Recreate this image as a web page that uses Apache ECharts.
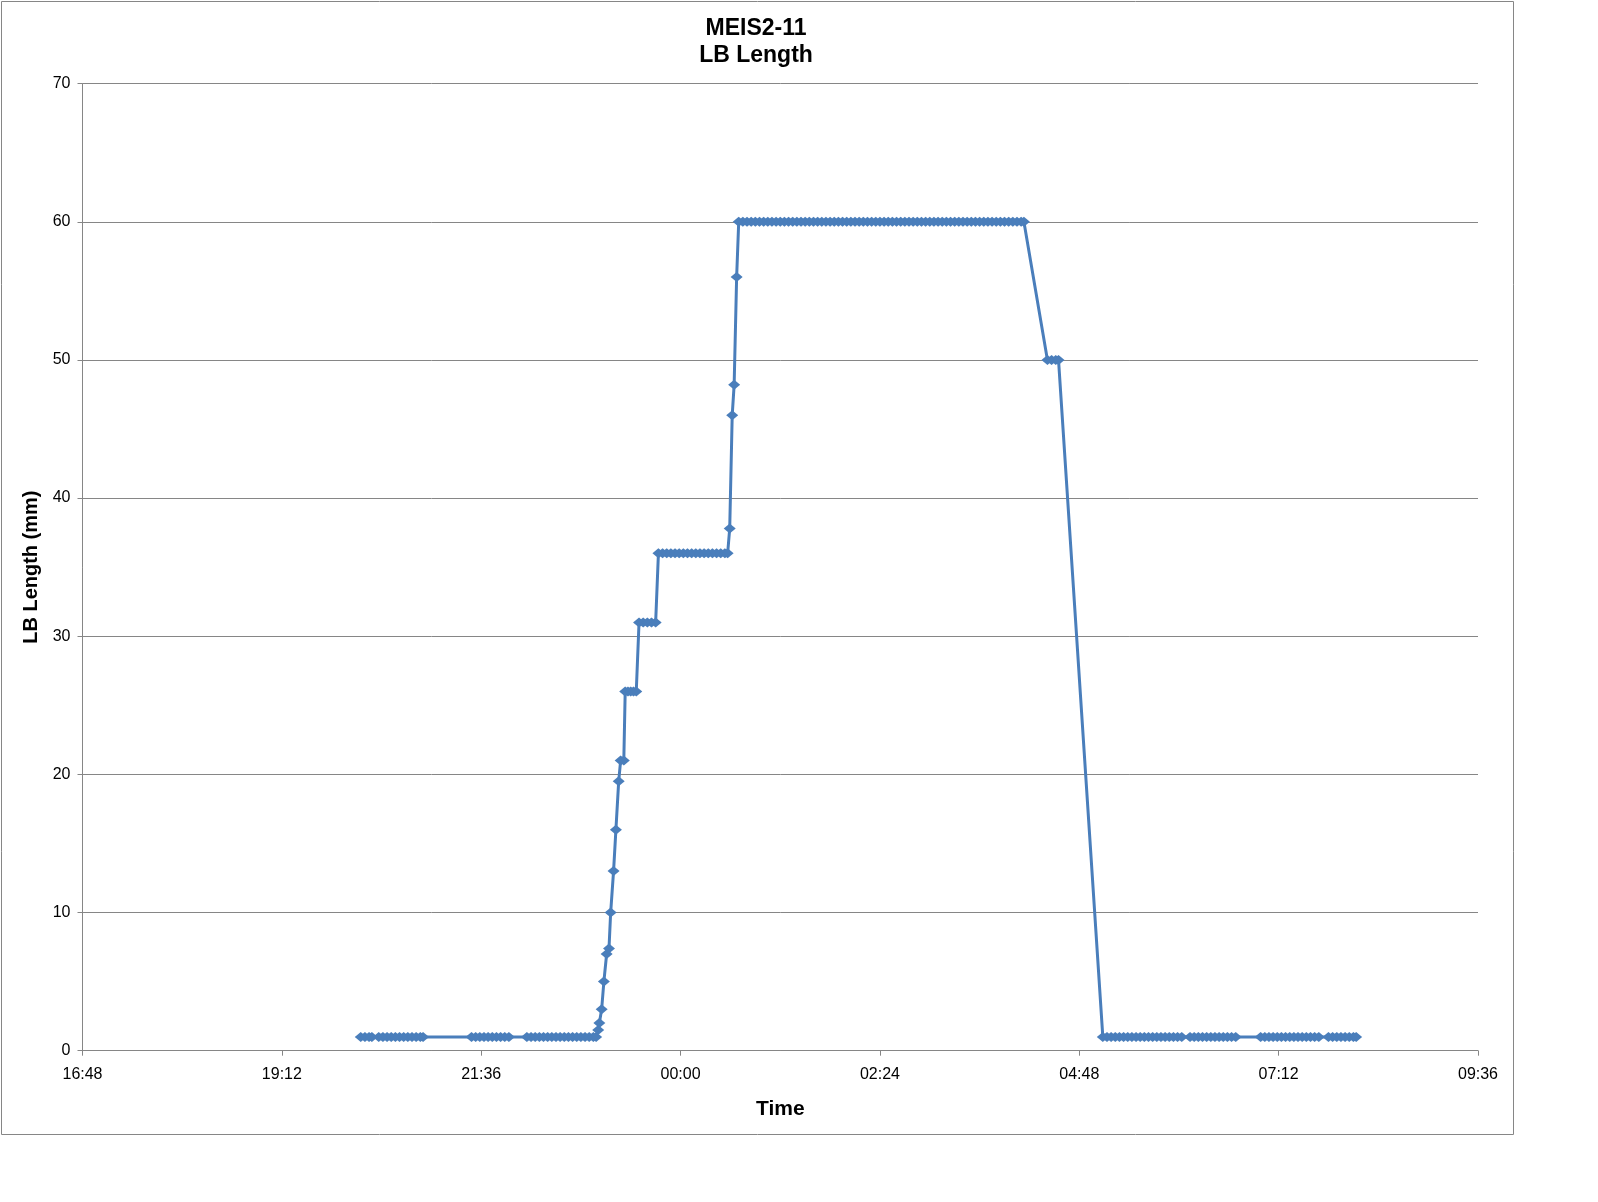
<!DOCTYPE html>
<html><head><meta charset="utf-8">
<script src="https://cdn.jsdelivr.net/npm/echarts@6/dist/echarts.min.js"></script>
<style>html,body{margin:0;padding:0;background:#fff}#c{width:1598px;height:1202px}</style>
</head><body><div id="c"></div>
<script>
const chartTitle = ["MEIS2-11", "LB Length"];
const xTickLabels = ["16:48","19:12","21:36","00:00","02:24","04:48","07:12","09:36"];
const yTickValues = [0,10,20,30,40,50,60,70];

const timeLabels = [
 "20:09","20:12","20:15","20:17",
 "20:22","20:25","20:28","20:31","20:34","20:37","20:40","20:43","20:46","20:49","20:52","20:54",
 "21:29","21:32","21:35","21:38","21:41","21:44","21:47","21:50","21:53","21:56",
 "22:09","22:12","22:15","22:18","22:21","22:24","22:27","22:30","22:33","22:36","22:39","22:42","22:45","22:48","22:51","22:54","22:57","22:59",
 "23:00:30","23:01:20","23:03:00","23:04:36","23:06:36","23:08:18","23:09:30","23:11:36","23:13:18","23:15:18","23:16:42","23:19:00",
 "23:20","23:22","23:24","23:26","23:28",
 "23:30","23:33","23:36","23:39","23:42",
 "23:44","23:47","23:50","23:53","23:56","23:59","00:02","00:05","00:08","00:11","00:14","00:17","00:20","00:23","00:26","00:29","00:32","00:34",
 "00:35:30","00:37:18","00:38:42","00:40:30",
 "00:42","00:45","00:48","00:51","00:54","00:57",
 "01:00","01:03","01:06","01:09","01:12","01:15","01:18","01:21","01:24","01:27","01:30","01:33","01:36","01:39","01:42","01:45","01:48","01:51","01:54","01:57",
 "02:00","02:03","02:06","02:09","02:12","02:15","02:18","02:21","02:24","02:27","02:30","02:33","02:36","02:39","02:42","02:45","02:48","02:51","02:54","02:57",
 "03:00","03:03","03:06","03:09","03:12","03:15","03:18","03:21","03:24","03:27","03:30","03:33","03:36","03:39","03:42","03:45","03:48","03:51","03:54","03:57",
 "04:00","04:03","04:06","04:08",
 "04:25","04:28","04:31","04:33",
 "05:05","05:08","05:11","05:14","05:17","05:20","05:23","05:26","05:29","05:32","05:35","05:38","05:41","05:44","05:47","05:50","05:53","05:56","05:59","06:02",
 "06:08","06:11","06:14","06:17","06:20","06:23","06:26","06:29","06:32","06:35","06:38","06:41",
 "06:59","07:02","07:05","07:08","07:11","07:14","07:17","07:20","07:23","07:26","07:29","07:32","07:35","07:38","07:41",
 "07:48","07:51","07:54","07:57","08:00","08:03","08:06","08:08"
];
const lbLength = [
 1,1,1,1,
 1,1,1,1,1,1,1,1,1,1,1,1,
 1,1,1,1,1,1,1,1,1,1,
 1,1,1,1,1,1,1,1,1,1,1,1,1,1,1,1,1,1,
 1.5,2,3,5,7,7.4,10,13,16,19.5,21,21,
 26,26,26,26,26,
 31,31,31,31,31,
 36,36,36,36,36,36,36,36,36,36,36,36,36,36,36,36,36,36,
 37.8,46,48.2,56,
 60,60,60,60,60,60,
 60,60,60,60,60,60,60,60,60,60,60,60,60,60,60,60,60,60,60,60,
 60,60,60,60,60,60,60,60,60,60,60,60,60,60,60,60,60,60,60,60,
 60,60,60,60,60,60,60,60,60,60,60,60,60,60,60,60,60,60,60,60,
 60,60,60,60,
 50,50,50,50,
 1,1,1,1,1,1,1,1,1,1,1,1,1,1,1,1,1,1,1,1,
 1,1,1,1,1,1,1,1,1,1,1,1,
 1,1,1,1,1,1,1,1,1,1,1,1,1,1,1,
 1,1,1,1,1,1,1,1
];

function toMin(s){
  const p = s.split(':').map(Number);
  let m = p[0]*60 + p[1] + (p[2]||0)/60;
  if (p[0] < 16) m += 1440;
  return m - (16*60+48);
}
const seriesData = timeLabels.map((t,i)=>[toMin(t), lbLength[i]]);

const FONT = '"Liberation Sans", Arial, sans-serif';
const GRAY = '#868686';
const chart = echarts.init(document.getElementById('c'), null, {renderer:'canvas'});
chart.setOption({
  animation:false,
  backgroundColor:'#ffffff',
  graphic:[
    {type:'rect', shape:{x:1.5,y:1.5,width:1512,height:1133}, style:{fill:'none', stroke:GRAY, lineWidth:1}, silent:true},
    {type:'text', x:756, y:14.5, style:{text:chartTitle.join('\n'), align:'center', verticalAlign:'top', font:'bold 23px '+FONT, lineHeight:27.5, fill:'#000'}}
  ],
  grid:{left:82.5, right:120, top:83.6, bottom:151.3, containLabel:false},
  xAxis:{
    type:'value', min:0, max:1008, interval:144,
    name:'Time', nameLocation:'middle', nameGap:48,
    nameTextStyle:{fontFamily:FONT, fontWeight:'bold', fontSize:21, color:'#000'},
    axisLine:{show:true, onZero:false, lineStyle:{color:GRAY, width:1}},
    axisTick:{show:true, length:5, lineStyle:{color:GRAY}},
    axisLabel:{fontFamily:FONT, fontSize:16, color:'#000', margin:16,
      formatter:v=>xTickLabels[Math.round(v/144)]},
    splitLine:{show:false}
  },
  yAxis:{
    type:'value', min:yTickValues[0], max:yTickValues[yTickValues.length-1], interval:10,
    name:'LB Length (mm)', nameLocation:'middle', nameGap:40, nameRotate:90,
    nameTextStyle:{fontFamily:FONT, fontWeight:'bold', fontSize:20, color:'#000'},
    axisLine:{show:true, lineStyle:{color:GRAY, width:1}},
    axisTick:{show:true, length:5, lineStyle:{color:GRAY}},
    axisLabel:{fontFamily:FONT, fontSize:16, color:'#000', margin:12},
    splitLine:{show:true, lineStyle:{color:GRAY, width:1}}
  },
  series:[{
    type:'line', data:seriesData,
    symbol:'diamond', symbolSize:[12,10], showAllSymbol:true,
    lineStyle:{color:'#4a7ebb', width:3},
    itemStyle:{color:'#4a7ebb'},
    z:3
  }]
});
</script>
</body></html>
